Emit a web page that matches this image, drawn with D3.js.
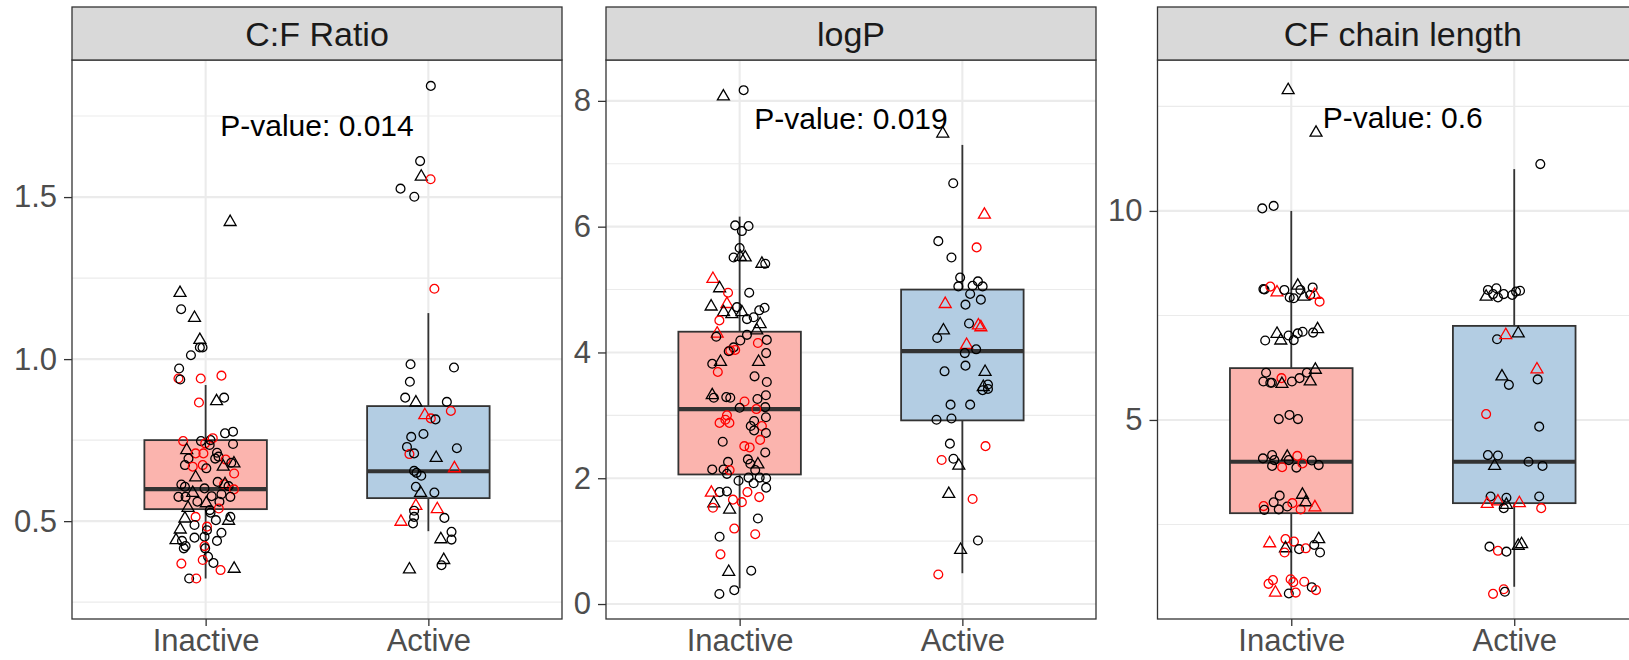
<!doctype html>
<html lang="en">
<head>
  <meta charset="utf-8">
  <title>Inactive vs Active boxplots</title>
  <script src="https://d3js.org/d3.v7.min.js"></script>
  <style>
    body { margin: 0; background: #fff; }
    svg { display: block; font-family: "Liberation Sans", Arial, sans-serif; }
  </style>
</head>
<body>
<script>
var panelTitles = ["C:F Ratio", "logP", "CF chain length"];
var groups = ["Inactive", "Active"];
var pValueLabels = ["P-value: 0.014", "P-value: 0.019", "P-value: 0.6"];
var pValueY = [1.722, 7.73, 12.25];
var yTicks = [[0.5, 1.0, 1.5], [0, 2, 4, 6, 8], [5, 10]];
var yMinor = [[0.25, 0.75, 1.25, 1.75], [1, 3, 5, 7], [2.5, 7.5, 12.5]];
var yTickFormat = [".1f", "d", "d"];
var yDomains = [[0.198, 1.923], [-0.238, 8.65], [0.239, 13.61]];
var xDomain = [0.4, 2.6];

// box stats per group: lower whisker, q1, median, q3, upper whisker
var cfBoxes = [[0.323, 0.537, 0.599, 0.75, 0.92], [0.469, 0.571, 0.654, 0.855, 1.142]];
var logpBoxes = [[0.25, 2.06, 3.10, 4.33, 6.16], [0.49, 2.92, 4.02, 5.0, 7.30]];
var chainBoxes = [[0.87, 2.77, 4.0, 6.24, 10.0], [1.01, 3.01, 4.0, 7.25, 11.0]];

// points: [jitter offset, value, shape+colour]  o/t = circle/triangle, k/r = black/red
var cfInactive = [[-0.026,1.059,"tk"],[-0.026,1.036,"ok"],[-0.014,1.036,"ok"],[-0.066,1.012,"ok"],[-0.119,0.971,"ok"],[-0.122,0.940,"or"],[-0.114,0.937,"ok"],[-0.022,0.940,"or"],[0.071,0.949,"or"],[-0.030,0.866,"or"],[0.049,0.870,"tk"],[0.083,0.881,"ok"],[0.123,0.776,"ok"],[0.087,0.771,"ok"],[0.123,0.738,"ok"],[-0.101,0.747,"or"],[-0.021,0.747,"ok"],[-0.002,0.740,"or"],[0.022,0.750,"ok"],[0.032,0.756,"or"],[0.018,0.735,"ok"],[-0.085,0.719,"tk"],[-0.045,0.709,"or"],[-0.010,0.709,"or"],[0.051,0.711,"ok"],[0.058,0.699,"ok"],[-0.077,0.693,"ok"],[0.043,0.693,"ok"],[0.090,0.690,"or"],[0.127,0.678,"tk"],[0.115,0.680,"ok"],[-0.093,0.673,"ok"],[-0.058,0.668,"or"],[-0.013,0.673,"or"],[0.003,0.663,"ok"],[0.079,0.668,"tk"],[0.128,0.647,"or"],[-0.045,0.635,"tk"],[0.054,0.621,"ok"],[0.083,0.614,"or"],[0.087,0.614,"tk"],[0.103,0.608,"ok"],[-0.109,0.613,"ok"],[-0.093,0.606,"ok"],[-0.005,0.601,"ok"],[0.127,0.598,"or"],[-0.058,0.587,"tk"],[-0.122,0.575,"ok"],[-0.090,0.575,"ok"],[0.027,0.577,"ok"],[0.071,0.583,"ok"],[0.111,0.575,"ok"],[-0.037,0.560,"ok"],[0.003,0.555,"tk"],[0.062,0.560,"ok"],[-0.079,0.541,"tk"],[0.019,0.534,"ok"],[0.059,0.539,"or"],[0.022,0.526,"ok"],[-0.093,0.508,"tk"],[-0.045,0.513,"or"],[0.111,0.513,"ok"],[0.046,0.503,"ok"],[0.103,0.501,"tk"],[-0.050,0.488,"ok"],[0.006,0.483,"or"],[0.006,0.472,"ok"],[-0.114,0.474,"tk"],[0.071,0.464,"ok"],[-0.133,0.441,"tk"],[-0.106,0.439,"ok"],[-0.050,0.449,"ok"],[-0.005,0.452,"ok"],[0.051,0.439,"ok"],[-0.098,0.416,"ok"],[-0.090,0.423,"ok"],[-0.005,0.423,"or"],[-0.002,0.416,"ok"],[0.011,0.390,"ok"],[-0.109,0.369,"or"],[-0.013,0.380,"or"],[0.035,0.371,"ok"],[0.067,0.349,"or"],[0.128,0.353,"tk"],[-0.074,0.323,"ok"],[-0.042,0.323,"or"],[0.11,1.423,"tk"],[-0.115,1.204,"tk"],[-0.11,1.154,"ok"],[-0.05,1.127,"tk"]];
var cfActive = [[-0.080,0.984,"ok"],[0.115,0.974,"ok"],[-0.083,0.930,"ok"],[-0.104,0.881,"ok"],[-0.056,0.866,"tk"],[0.083,0.868,"ok"],[0.101,0.840,"or"],[-0.016,0.827,"tr"],[0.011,0.817,"or"],[0.032,0.814,"ok"],[-0.022,0.769,"ok"],[-0.077,0.760,"ok"],[-0.096,0.729,"ok"],[0.128,0.725,"ok"],[-0.085,0.707,"or"],[-0.064,0.709,"ok"],[0.035,0.695,"tk"],[0.117,0.663,"tr"],[-0.064,0.655,"ok"],[-0.053,0.649,"ok"],[-0.032,0.640,"ok"],[-0.056,0.606,"ok"],[-0.035,0.587,"tk"],[0.027,0.588,"ok"],[-0.056,0.547,"tr"],[0.040,0.537,"tr"],[-0.064,0.532,"ok"],[-0.064,0.513,"ok"],[0.072,0.510,"ok"],[-0.069,0.493,"ok"],[-0.123,0.498,"tr"],[0.104,0.467,"ok"],[0.056,0.444,"tk"],[0.104,0.443,"ok"],[0.069,0.380,"tk"],[0.059,0.364,"ok"],[-0.085,0.351,"tk"],[0.011,1.843,"ok"],[-0.037,1.611,"ok"],[-0.032,1.563,"tk"],[0.010,1.555,"or"],[-0.125,1.526,"ok"],[-0.063,1.501,"ok"],[0.027,1.217,"or"]];

var logpInactive = [[-0.073,8.07,"tk"],[0.018,8.17,"ok"],
  [-0.020,6.02,"ok"],[0.010,5.93,"ok"],[0.040,6.01,"ok"],[0.000,5.66,"ok"],[-0.027,5.51,"ok"],[0.003,5.52,"tk"],[0.025,5.51,"tk"],[0.100,5.41,"tk"],[0.115,5.41,"ok"],[-0.120,5.17,"tr"],[-0.090,5.02,"tk"],[-0.052,4.95,"or"],[0.043,4.95,"ok"],[-0.128,4.73,"tk"],[-0.057,4.77,"tr"],[-0.072,4.64,"tk"],[-0.035,4.61,"tk"],[-0.012,4.72,"ok"],[0.010,4.64,"tk"],[0.033,4.53,"ok"],[0.063,4.56,"ok"],[0.088,4.67,"ok"],[0.112,4.71,"ok"],[-0.091,4.51,"or"],[0.092,4.45,"tk"],[-0.101,4.30,"tr"],[-0.105,4.25,"ok"],[0.077,4.35,"tk"],[0.033,4.28,"ok"],[0.003,4.19,"ok"],[-0.027,4.08,"ok"],[-0.042,4.03,"or"],[-0.020,4.04,"or"],[-0.049,4.02,"ok"],[0.082,4.15,"or"],[0.122,4.20,"ok"],[0.119,3.99,"ok"],[-0.123,3.82,"ok"],[-0.086,3.85,"tk"],[0.085,3.85,"tk"],[-0.098,3.69,"or"],[0.067,3.62,"ok"],[0.122,3.53,"ok"],
  [-0.123,3.32,"tk"],[-0.116,3.28,"ok"],[-0.060,3.29,"ok"],[-0.042,3.28,"ok"],[0.022,3.22,"or"],[0.000,3.12,"ok"],[0.080,3.26,"ok"],[0.118,3.32,"ok"],[0.115,3.13,"ok"],[0.075,3.10,"or"],[-0.057,3.00,"or"],[-0.064,2.93,"or"],[-0.090,2.88,"or"],[-0.046,2.88,"or"],[0.118,2.97,"ok"],[0.065,2.91,"ok"],[0.050,2.83,"ok"],[0.100,2.83,"or"],[0.065,2.76,"ok"],[0.118,2.72,"ok"],[0.092,2.61,"or"],[-0.076,2.58,"ok"],[0.021,2.51,"or"],[0.045,2.49,"or"],[0.115,2.41,"ok"],[0.037,2.30,"ok"],[-0.052,2.26,"ok"],[0.082,2.22,"tk"],[0.048,2.23,"ok"],[-0.123,2.14,"ok"],[-0.072,2.14,"ok"],[-0.045,2.13,"or"],[-0.057,2.07,"ok"],[0.070,2.13,"ok"],[0.090,2.01,"ok"],[0.119,2.00,"ok"],[0.040,2.01,"ok"],[-0.005,1.96,"ok"],[0.063,1.92,"ok"],[0.119,1.85,"ok"],[-0.090,1.78,"ok"],[-0.057,1.79,"ok"],[-0.127,1.77,"tr"],[0.035,1.78,"or"],[-0.030,1.66,"or"],[0.088,1.70,"or"],[0.010,1.62,"or"],[-0.116,1.60,"tk"],[-0.120,1.53,"or"],[-0.045,1.50,"tk"],[0.082,1.36,"ok"],[-0.024,1.20,"or"],[0.070,1.11,"or"],[-0.090,1.07,"ok"],[-0.086,0.79,"or"],[-0.049,0.51,"tk"],[0.052,0.53,"ok"],[-0.024,0.22,"ok"],[-0.091,0.16,"ok"]];
var logpActive = [[-0.088,7.48,"tk"],[-0.041,6.69,"ok"],[0.099,6.19,"tr"],[-0.108,5.77,"ok"],[0.064,5.67,"or"],[-0.049,5.51,"ok"],[-0.010,5.19,"ok"],[0.070,5.13,"ok"],[-0.018,5.05,"ok"],[0.046,5.06,"ok"],[0.091,5.05,"ok"],[0.035,4.93,"ok"],[0.083,4.84,"ok"],[-0.077,4.77,"tr"],[0.014,4.76,"ok"],[0.030,4.46,"ok"],[0.072,4.43,"tr"],[0.083,4.40,"tr"],[-0.085,4.35,"tk"],[-0.113,4.23,"ok"],[0.019,4.12,"tr"],[0.011,3.99,"ok"],[0.062,4.05,"ok"],[0.014,3.79,"ok"],[-0.080,3.70,"ok"],[0.102,3.69,"tk"],[0.115,3.49,"ok"],[0.091,3.40,"ok"],[0.094,3.45,"tk"],[0.115,3.42,"ok"],[-0.053,3.17,"ok"],[0.035,3.17,"ok"],[-0.116,2.93,"ok"],[-0.049,2.95,"ok"],[-0.056,2.55,"ok"],[0.104,2.51,"or"],[-0.040,2.31,"ok"],[-0.093,2.29,"or"],[-0.016,2.20,"tk"],[-0.061,1.75,"tk"],[0.046,1.67,"or"],[0.070,1.01,"ok"],[-0.008,0.86,"tk"],[-0.108,0.47,"or"]];

var chainInactive = [[-0.014,12.89,"tk"],[0.111,11.87,"tk"],[-0.130,10.06,"ok"],[-0.079,10.12,"ok"],
  [-0.125,8.13,"ok"],[-0.120,8.12,"ok"],[-0.094,8.19,"or"],[-0.064,8.05,"tr"],[-0.031,8.11,"ok"],[-0.007,7.93,"ok"],[0.011,7.91,"ok"],[0.029,8.21,"tk"],[0.041,8.11,"ok"],[0.056,7.95,"tk"],[0.096,8.17,"ok"],[0.085,7.99,"ok"],[0.105,7.99,"tr"],[0.127,7.83,"or"],
  [-0.117,6.90,"ok"],[-0.064,7.06,"tk"],[-0.047,6.90,"tk"],[-0.012,7.02,"ok"],[0.011,6.91,"ok"],[0.029,7.07,"ok"],[0.051,7.11,"ok"],[0.098,7.09,"ok"],[0.118,7.17,"tk"],
  [-0.113,6.13,"ok"],[-0.125,5.92,"ok"],[-0.087,5.89,"ok"],[-0.044,6.00,"or"],[-0.042,5.86,"tk"],[0.003,5.92,"ok"],[0.037,6.00,"ok"],[0.070,6.13,"ok"],[0.085,5.92,"tk"],[0.108,6.20,"tk"],[-0.094,5.89,"ok"],
  [-0.056,5.02,"ok"],[-0.008,5.12,"ok"],[0.030,5.02,"ok"],
  [-0.127,4.08,"ok"],[-0.086,4.16,"ok"],[-0.076,4.04,"ok"],[-0.018,4.12,"tk"],[0.027,4.14,"or"],[-0.086,3.90,"ok"],[-0.041,3.87,"or"],[0.023,3.86,"ok"],[0.050,3.96,"or"],[0.092,4.03,"ok"],[0.123,3.92,"ok"],[-0.011,4.04,"ok"],
  [-0.052,3.19,"ok"],[0.050,3.21,"tk"],[-0.079,3.03,"ok"],[-0.124,2.94,"or"],[-0.121,2.85,"ok"],[-0.056,2.86,"ok"],[-0.018,2.93,"ok"],[0.005,3.01,"or"],[0.042,2.86,"or"],[0.065,3.03,"tk"],[0.106,2.91,"tr"],
  [-0.097,2.05,"tr"],[-0.026,2.15,"or"],[0.012,2.09,"or"],[-0.026,1.93,"tk"],[-0.030,1.83,"or"],[0.035,1.91,"ok"],[0.065,1.93,"or"],[0.103,2.01,"ok"],[0.123,2.15,"tk"],[0.129,1.83,"ok"],
  [-0.082,1.17,"or"],[-0.102,1.08,"or"],[-0.003,1.19,"or"],[0.009,1.12,"or"],[0.058,1.13,"or"],[-0.071,0.87,"tr"],[-0.011,0.85,"ok"],[0.020,0.87,"or"],[0.092,1.00,"ok"],[0.111,0.93,"or"]];
var chainActive = [[0.117,11.12,"ok"],[-0.118,8.11,"ok"],[-0.080,8.15,"ok"],[-0.126,7.95,"tk"],[-0.095,8.01,"ok"],[-0.073,7.93,"ok"],[-0.047,8.01,"ok"],[-0.009,7.99,"ok"],[0.008,8.07,"ok"],[0.026,8.09,"ok"],
  [-0.077,6.93,"ok"],[-0.038,7.03,"tr"],[0.018,7.07,"tk"],[-0.055,6.04,"tk"],[-0.024,5.84,"ok"],[0.102,6.21,"tr"],[0.105,5.97,"ok"],[-0.126,5.14,"or"],[0.112,4.84,"ok"],[-0.118,4.16,"ok"],[-0.073,4.15,"ok"],[-0.088,3.90,"tk"],[0.064,4.00,"ok"],[0.127,3.90,"ok"],[-0.106,3.17,"ok"],[-0.035,3.14,"ok"],[0.112,3.17,"ok"],[-0.121,2.99,"tr"],[-0.073,3.05,"tr"],[-0.047,2.89,"ok"],[-0.035,2.97,"tk"],[0.023,3.01,"tr"],[0.121,2.89,"or"],[-0.111,1.97,"ok"],[-0.073,1.87,"or"],[-0.035,1.85,"ok"],[0.018,1.99,"tk"],[0.033,2.03,"tk"],[-0.095,0.84,"or"],[-0.047,0.95,"or"],[-0.042,0.89,"ok"]];

var boxes = [cfBoxes, logpBoxes, chainBoxes];
var points = [[cfInactive, cfActive], [logpInactive, logpActive], [chainInactive, chainActive]];

// layout
var width = 1629, height = 660;
var panelLeft = [72, 606, 1157.5];
var panelRight = [562, 1096, 1648];
var stripTop = 7, panelTop = 60, panelBottom = 619;
var fills = ["#FBB4AE", "#B3CDE3"];
var boxWidth = 0.55;
var dark = "#333333";

var svg = d3.select("body").append("svg")
  .attr("width", width)
  .attr("height", height);

var triangle = d3.symbol().type(d3.symbolTriangle).size(62);
var circle = d3.arc()({innerRadius: 0, outerRadius: 4.4, startAngle: 0, endAngle: 2 * Math.PI});

panelTitles.forEach(function(title, i) {
  var x = d3.scaleLinear().domain(xDomain).range([panelLeft[i], panelRight[i]]);
  var y = d3.scaleLinear().domain(yDomains[i]).range([panelBottom, panelTop]);
  var g = svg.append("g");

  // grid
  g.selectAll("line.minor").data(yMinor[i]).join("line")
    .attr("class", "minor")
    .attr("x1", panelLeft[i]).attr("x2", panelRight[i])
    .attr("y1", d => y(d)).attr("y2", d => y(d))
    .attr("stroke", "#EBEBEB").attr("stroke-width", 1.1);
  g.selectAll("line.major").data(yTicks[i]).join("line")
    .attr("class", "major")
    .attr("x1", panelLeft[i]).attr("x2", panelRight[i])
    .attr("y1", d => y(d)).attr("y2", d => y(d))
    .attr("stroke", "#EBEBEB").attr("stroke-width", 2.1);
  g.selectAll("line.vgrid").data([1, 2]).join("line")
    .attr("class", "vgrid")
    .attr("x1", d => x(d)).attr("x2", d => x(d))
    .attr("y1", panelTop).attr("y2", panelBottom)
    .attr("stroke", "#EBEBEB").attr("stroke-width", 2.1);

  // boxes
  boxes[i].forEach(function(b, j) {
    var c = j + 1;
    var bg = g.append("g");
    bg.append("line")
      .attr("x1", x(c)).attr("x2", x(c))
      .attr("y1", y(b[4])).attr("y2", y(b[3]))
      .attr("stroke", dark).attr("stroke-width", 1.8);
    bg.append("line")
      .attr("x1", x(c)).attr("x2", x(c))
      .attr("y1", y(b[1])).attr("y2", y(b[0]))
      .attr("stroke", dark).attr("stroke-width", 1.8);
    bg.append("rect")
      .attr("x", x(c - boxWidth / 2))
      .attr("width", x(c + boxWidth / 2) - x(c - boxWidth / 2))
      .attr("y", y(b[3]))
      .attr("height", y(b[1]) - y(b[3]))
      .attr("fill", fills[j]).attr("stroke", dark).attr("stroke-width", 1.8);
    bg.append("line")
      .attr("x1", x(c - boxWidth / 2)).attr("x2", x(c + boxWidth / 2))
      .attr("y1", y(b[2])).attr("y2", y(b[2]))
      .attr("stroke", dark).attr("stroke-width", 4.2);
  });

  // jittered points
  points[i].forEach(function(pts, j) {
    var c = j + 1;
    g.append("g").selectAll("path").data(pts).join("path")
      .attr("transform", d => "translate(" + x(c + d[0]) + "," + y(d[1]) + ")")
      .attr("d", d => d[2][0] === "t" ? triangle() : circle)
      .attr("fill", "none")
      .attr("stroke", d => d[2][1] === "r" ? "#FF0000" : "#000000")
      .attr("stroke-width", 1.3);
  });

  // p-value label
  g.append("text")
    .attr("x", x(1.5)).attr("y", y(pValueY[i]))
    .attr("dy", "0.36em")
    .attr("text-anchor", "middle")
    .attr("font-size", 30)
    .attr("fill", "#000")
    .text(pValueLabels[i]);

  // panel border
  g.append("rect")
    .attr("x", panelLeft[i]).attr("y", panelTop)
    .attr("width", panelRight[i] - panelLeft[i])
    .attr("height", panelBottom - panelTop)
    .attr("fill", "none").attr("stroke", dark).attr("stroke-width", 1.3);

  // strip
  g.append("rect")
    .attr("x", panelLeft[i]).attr("y", stripTop)
    .attr("width", panelRight[i] - panelLeft[i])
    .attr("height", panelTop - stripTop)
    .attr("fill", "#D9D9D9").attr("stroke", dark).attr("stroke-width", 1.3);
  g.append("text")
    .attr("x", (panelLeft[i] + panelRight[i]) / 2)
    .attr("y", 46)
    .attr("text-anchor", "middle")
    .attr("font-size", 34)
    .attr("fill", "#1A1A1A")
    .text(title);

  // axes
  var yAxisGroup = g.append("g")
    .attr("transform", "translate(" + panelLeft[i] + ",0)");
  d3.axisLeft(y).tickValues(yTicks[i]).tickFormat(d3.format(yTickFormat[i]))
    .tickSize(8).tickPadding(7)(yAxisGroup);

  var xAxisGroup = g.append("g")
    .attr("transform", "translate(0," + panelBottom + ")");
  d3.axisBottom(x).tickValues([1, 2]).tickFormat(d => groups[d - 1])
    .tickSize(7).tickPadding(3)(xAxisGroup);

  [yAxisGroup, xAxisGroup].forEach(function(ax) {
    ax.select(".domain").remove();
    ax.selectAll(".tick line").attr("stroke", dark).attr("stroke-width", 1.3);
    ax.selectAll(".tick text")
      .attr("fill", "#4D4D4D")
      .attr("font-family", "'Liberation Sans', Arial, sans-serif");
  });
  yAxisGroup.selectAll(".tick text").attr("font-size", 31);
  xAxisGroup.selectAll(".tick text").attr("font-size", 31);
});
</script>
</body>
</html>
